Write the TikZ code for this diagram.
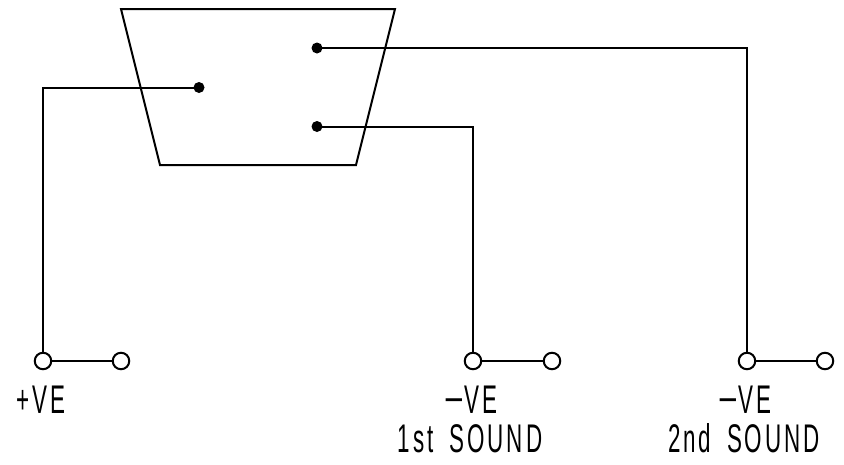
\documentclass[tikz,border=0pt]{standalone}
\usepackage{graphicx}
\usepackage{fontspec}
\setmainfont[FakeStretch=0.56,LetterSpace=7.5,WordSpace=1.7]{Liberation Sans}
\newcommand{\wideminus}{\scalebox{1.5}[1]{−}}
\tikzset{
  wire/.style={line width=2pt,black},
  term/.style={circle,draw=black,fill=white,line width=2pt,minimum size=16.5pt,inner sep=0pt},
  pin/.style={circle,fill=black,minimum size=11pt,inner sep=0pt},
  lab/.style={inner sep=0pt,anchor=base,font=\fontsize{40}{42}\selectfont}
}
\begin{document}
\begin{tikzpicture}[x=1pt,y=-1pt]
\useasboundingbox (0,0) rectangle (844,464);
\coordinate (tl) at (121,9);
\coordinate (tr) at (395,9);
\coordinate (br) at (356,165);
\coordinate (bl) at (160,165);
\draw[wire,line join=miter] (tl) -- (tr) -- (br) -- (bl) -- cycle;
\node[pin] (p1) at (199,87.5) {};
\node[pin] (p2) at (317,48) {};
\node[pin] (p3) at (317,126.5) {};
\node[term] (a1) at (43,361) {};
\node[term] (a2) at (121,361) {};
\node[term] (b1) at (473,361) {};
\node[term] (b2) at (552,361) {};
\node[term] (c1) at (747,361) {};
\node[term] (c2) at (825,361) {};
\draw[wire] (p1.center) -| (a1.north);
\draw[wire] (p2.center) -| (c1.north);
\draw[wire] (p3.center) -| (b1.north);
\draw[wire] (a1) -- (a2);
\draw[wire] (b1) -- (b2);
\draw[wire] (c1) -- (c2);
\node[lab] (l1) at (40.5,413) {+VE};
\node[lab] (l2) at (471,413) {\wideminus VE};
\node[lab] (l3) at (470,452) {1st SOUND};
\node[lab] (l4) at (745,413) {\wideminus VE};
\node[lab] (l5) at (744,452) {2nd SOUND};
\end{tikzpicture}
\end{document}
